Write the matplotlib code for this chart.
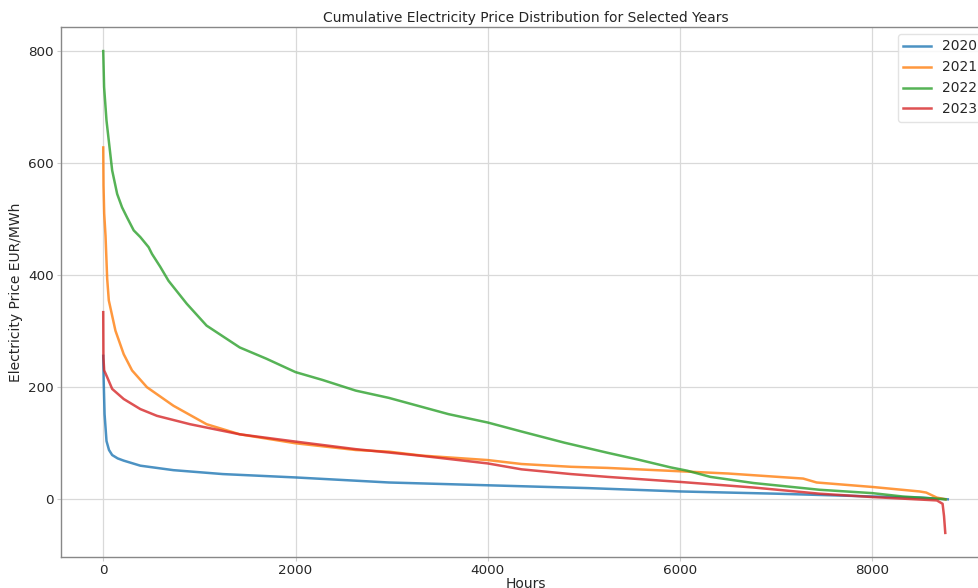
import matplotlib
matplotlib.use("Agg")
import matplotlib.pyplot as plt

years = ["2020", "2021", "2022", "2023"]

hours_2020 = [0, 5, 14, 34, 60, 93, 150, 213, 386, 730, 877, 1245, 2000, 2971, 4000, 5040, 6000, 7000, 8000, 8500, 8784]
price_2020 = [256, 210, 152, 104, 88, 79, 73, 69, 60, 52, 50, 45, 39, 30, 25, 20, 14, 10, 5, 3, 0]

hours_2021 = [0, 3, 10, 24, 41, 58, 127, 213, 300, 455, 730, 1075, 1420, 2000, 2626, 2971, 3315, 4000, 4350, 4866, 5246, 6000, 6500, 7280, 7420, 8000, 8490, 8560, 8670, 8760]
price_2021 = [628, 560, 510, 470, 394, 355, 301, 259, 230, 200, 167, 134, 116, 100, 88, 85, 78, 70, 63, 58, 56, 50, 46, 37, 30, 22, 14, 12, 3, 0]

hours_2022 = [0, 9, 34, 93, 145, 196, 248, 317, 386, 472, 507, 593, 679, 869, 1075, 1420, 1696, 2000, 2281, 2626, 2971, 3591, 4000, 4350, 4798, 5246, 5560, 5900, 6075, 6315, 6765, 7450, 8000, 8315, 8760]
price_2022 = [800, 736, 676, 587, 545, 521, 503, 480, 468, 450, 438, 415, 390, 349, 310, 271, 251, 227, 213, 194, 181, 152, 137, 121, 101, 83, 71, 57, 51, 40, 29, 17, 11, 5, 0]

hours_2023 = [0, 2, 10, 41, 93, 213, 386, 558, 903, 1420, 2000, 2626, 3315, 4000, 4350, 4866, 5246, 6000, 6765, 7450, 8000, 8670, 8730, 8745, 8758]
price_2023 = [334, 253, 230, 218, 197, 179, 161, 149, 134, 116, 103, 89.5, 77.5, 64, 53.5, 45, 40, 31, 21, 10, 4, -2, -8, -30, -60]

series = [(hours_2020, price_2020), (hours_2021, price_2021),
          (hours_2022, price_2022), (hours_2023, price_2023)]
colors = ["#1f77b4", "#ff7f0e", "#2ca02c", "#d62728"]

text_color = "#262626"
plt.rcParams["font.family"] = "DejaVu Sans"

fig = plt.figure(figsize=(9.79, 5.88), dpi=100)
ax = fig.add_axes([61/979, 31/588, 929/979, 530/588])

for (h, p), c, y in zip(series, colors, years):
    ax.plot(h, p, color=c, alpha=0.8, lw=1.8, label=y)

ax.set_title("Cumulative Electricity Price Distribution for Selected Years",
             fontsize=10, color=text_color, pad=3.5)
ax.set_xlabel("Hours", fontsize=10, color=text_color, labelpad=0)
ax.set_ylabel("Electricity Price EUR/MWh", fontsize=10, color=text_color, labelpad=4)
ax.set_xticks([0, 2000, 4000, 6000, 8000])
ax.set_yticks([0, 200, 400, 600, 800])
ax.tick_params(labelsize=9.7, colors=text_color, length=3, pad=2, color="#cccccc")
ax.grid(True, color="#d9d9d9", lw=0.9)
ax.set_axisbelow(True)
for s in ax.spines.values():
    s.set_color("#888888")
    s.set_linewidth(1.0)

leg = ax.legend(loc="upper right", fontsize=10, frameon=True, labelcolor=text_color)
leg.get_frame().set_edgecolor("#dddddd")

fig.savefig("out.png", dpi=100)
